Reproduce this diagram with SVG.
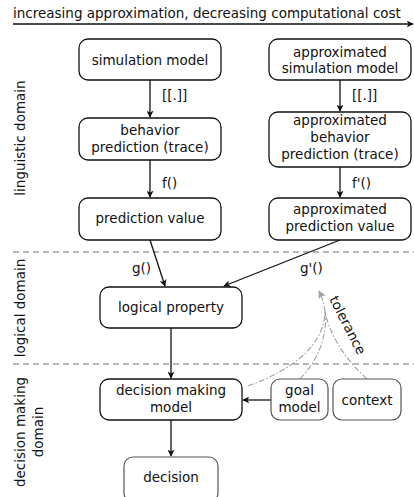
<svg xmlns="http://www.w3.org/2000/svg" width="414" height="497" viewBox="0 0 414 497">
<defs>
<style>
text{font-family:"DejaVu Sans","Verdana",sans-serif;font-size:13.5px;fill:#111;}
.c{text-anchor:middle;}
.box{fill:#fff;stroke:#111;stroke-width:1.3;}
.box2{fill:#fff;stroke:#555;stroke-width:1.2;}
.edge{fill:none;stroke:#111;stroke-width:1.3;}
.sep{stroke:#a0a0a0;stroke-width:1.3;stroke-dasharray:6 4;}
.tol{fill:none;stroke:#a0a0a0;stroke-width:1.1;stroke-dasharray:6 2 1.5 2;}
</style>
<marker id="ah" viewBox="0 0 10 10" refX="9" refY="5" markerWidth="7" markerHeight="7" orient="auto" markerUnits="userSpaceOnUse">
<path d="M0,0 L10,5 L0,10 L2.5,5 z" fill="#111"/>
</marker>
<marker id="ahg" viewBox="0 0 10 10" refX="9" refY="5" markerWidth="8" markerHeight="8" orient="auto" markerUnits="userSpaceOnUse">
<path d="M0,0 L10,5 L0,10 L2.5,5 z" fill="#a0a0a0"/>
</marker>
</defs>
<rect width="414" height="497" fill="#fff"/>

<g id="title">
<text x="13" y="18">increasing approximation, decreasing computational cost</text>
<line x1="13" y1="24" x2="413" y2="24" class="edge" marker-end="url(#ah)"/>
</g>

<g id="separators">
<line x1="13" y1="252" x2="414" y2="252" class="sep"/>
<line x1="13" y1="364" x2="414" y2="364" class="sep"/>
</g>

<g id="domain-labels">
<text class="c" transform="translate(25,138) rotate(-90)">linguistic domain</text>
<text class="c" transform="translate(25,308) rotate(-90)">logical domain</text>
<text class="c" transform="translate(25,432) rotate(-90)">decision making</text>
<text class="c" transform="translate(43,432) rotate(-90)">domain</text>
</g>

<g id="connectors">
<line x1="150" y1="80" x2="150" y2="117" class="edge" marker-end="url(#ah)"/>
<line x1="150" y1="160" x2="150" y2="197" class="edge" marker-end="url(#ah)"/>
<line x1="340" y1="80" x2="340" y2="111" class="edge" marker-end="url(#ah)"/>
<line x1="340" y1="167" x2="340" y2="197" class="edge" marker-end="url(#ah)"/>
<line x1="150" y1="240" x2="165" y2="286" class="edge" marker-end="url(#ah)"/>
<line x1="340" y1="240" x2="224" y2="286" class="edge" marker-end="url(#ah)"/>
<line x1="171" y1="328" x2="171" y2="378" class="edge" marker-end="url(#ah)"/>
<line x1="171" y1="420" x2="171" y2="456" class="edge" marker-end="url(#ah)"/>
<line x1="271" y1="400" x2="243" y2="400" class="edge" marker-end="url(#ah)"/>
<path class="tol" d="M248,386 C292,370 324,346 325,312"/>
<path class="tol" d="M300,379 C318,360 328,336 325,312"/>
<path class="tol" d="M367,379 C346,360 330,336 325,312"/>
<path class="tol" d="M325,312 C324,303 322,297 319,291" marker-end="url(#ahg)"/>
<text x="162" y="100">[[.]]</text>
<text x="162" y="188">f()</text>
<text x="352" y="100">[[.]]</text>
<text x="352" y="188">f'()</text>
<text x="132" y="273">g()</text>
<text x="300" y="273">g'()</text>
<text transform="translate(329,299) rotate(63)">tolerance</text>
</g>

<g id="simulation-model">
<rect class="box" x="79" y="39" width="142" height="41" rx="9"/>
<text class="c" x="150" y="64.5">simulation model</text>
</g>
<g id="approx-simulation-model">
<rect class="box" x="269" y="39" width="142" height="41" rx="9"/>
<text class="c" x="340" y="56.5">approximated</text>
<text class="c" x="340" y="73">simulation model</text>
</g>
<g id="behavior-prediction">
<rect class="box" x="79" y="118" width="142" height="42" rx="9"/>
<text class="c" x="150" y="135">behavior</text>
<text class="c" x="150" y="152">prediction (trace)</text>
</g>
<g id="approx-behavior-prediction">
<rect class="box" x="269" y="112" width="142" height="55" rx="9"/>
<text class="c" x="340" y="125">approximated</text>
<text class="c" x="340" y="142">behavior</text>
<text class="c" x="340" y="159">prediction (trace)</text>
</g>
<g id="prediction-value">
<rect class="box" x="79" y="198" width="142" height="42" rx="9"/>
<text class="c" x="150" y="223">prediction value</text>
</g>
<g id="approx-prediction-value">
<rect class="box" x="269" y="198" width="142" height="42" rx="9"/>
<text class="c" x="340" y="214">approximated</text>
<text class="c" x="340" y="231">prediction value</text>
</g>
<g id="logical-property">
<rect class="box" x="100" y="287" width="142" height="41" rx="9"/>
<text class="c" x="171" y="312">logical property</text>
</g>
<g id="decision-making-model">
<rect class="box" x="100" y="379" width="142" height="41" rx="9"/>
<text class="c" x="171" y="395">decision making</text>
<text class="c" x="171" y="412">model</text>
</g>
<g id="goal-model">
<rect class="box2" x="271" y="379" width="57" height="41" rx="9"/>
<text class="c" x="299.5" y="395">goal</text>
<text class="c" x="299.5" y="412">model</text>
</g>
<g id="context">
<rect class="box2" x="333" y="379" width="68" height="41" rx="9"/>
<text class="c" x="367" y="405">context</text>
</g>
<g id="decision">
<rect class="box2" x="124" y="457" width="94" height="45" rx="9"/>
<text class="c" x="171" y="482">decision</text>
</g>
</svg>
